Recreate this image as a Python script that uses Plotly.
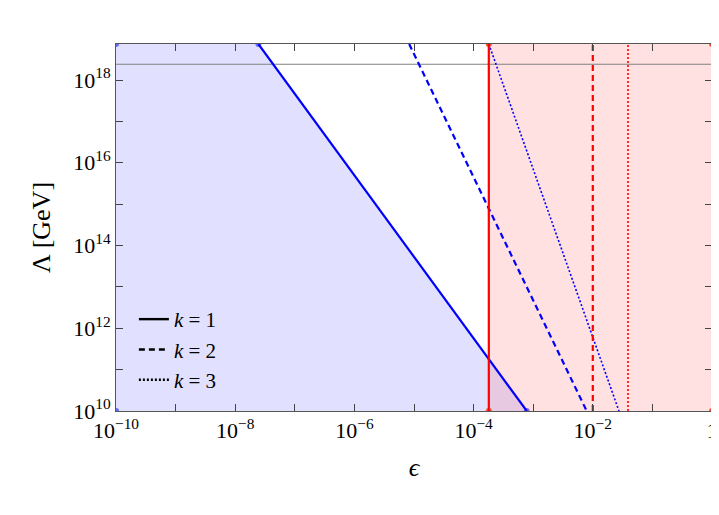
import plotly.graph_objects as go

# data
x_k1 = [2.45e-8, 7.8e-4]; y_k1 = [7.4e18, 1e10]
x_k2 = [8.3e-6, 7.9e-3]; y_k2 = [7.4e18, 1e10]
x_k3 = [1.8e-4, 2.75e-2]; y_k3 = [7.4e18, 1e10]
eps_k1, eps_k2, eps_k3 = 1.8e-4, 1e-2, 3.9e-2
m_planck = 2.4e18
xmin, xmax, ymin, ymax = 1e-10, 1.0, 1e10, 7.4e18

fig = go.Figure()
fig.add_trace(go.Scatter(x=[xmin, xmin] + x_k1, y=[ymin, ymax] + y_k1, fill='toself',
    fillcolor='rgba(120,120,255,0.22)', line=dict(width=0), showlegend=False, hoverinfo='skip'))
fig.add_trace(go.Scatter(x=[eps_k1, eps_k1, xmax, xmax], y=[ymin, ymax, ymax, ymin], fill='toself',
    fillcolor='rgba(255,120,120,0.22)', line=dict(width=0), showlegend=False, hoverinfo='skip'))
fig.add_trace(go.Scatter(x=[xmin, xmax], y=[m_planck, m_planck], mode='lines',
    line=dict(color='gray', width=1.2), showlegend=False))
dashmap = {'solid': 'solid', 'dash': '6px,4px', 'dot': '2px,2px'}
for xs, ys, d in [(x_k1, y_k1, 'solid'), (x_k2, y_k2, 'dash'), (x_k3, y_k3, 'dot')]:
    fig.add_trace(go.Scatter(x=xs, y=ys, mode='lines', line=dict(color='blue', width=2.2 if d != 'dot' else 1.6, dash=dashmap[d]), showlegend=False))
for e, d in [(eps_k1, 'solid'), (eps_k2, 'dash'), (eps_k3, 'dot')]:
    fig.add_trace(go.Scatter(x=[e, e], y=[ymin, ymax], mode='lines', line=dict(color='red', width=2.2 if d != 'dot' else 1.6, dash=dashmap[d]), showlegend=False))
for k, d in [(1, 'solid'), (2, 'dash'), (3, 'dot')]:
    fig.add_trace(go.Scatter(x=[None], y=[None], mode='lines', line=dict(color='black', width=2.4, dash=dashmap[d]),
        name=f'<i>k</i> = {k}'))

font = dict(family='Liberation Serif, DejaVu Serif, serif', size=22, color='black')
xt = [10**p for p in range(-10, 1)]
xl = [f'10<sup>−{-p}</sup>' if p % 2 == 0 and p < 0 else ('1' if p == 0 else '') for p in range(-10, 1)]
yt = [10**p for p in range(10, 19)]
yl = [f'10<sup>{p}</sup>' if p % 2 == 0 else '' for p in range(10, 19)]
fig.update_layout(width=719, height=515, margin=dict(l=108, r=9, t=36, b=112),
    plot_bgcolor='white', paper_bgcolor='white', font=font,
    legend=dict(x=0.03, y=0.03, xanchor='left', yanchor='bottom', bgcolor='rgba(0,0,0,0)', font=dict(size=21)))
fig.update_xaxes(type='log', range=[-10, 0], tickvals=xt, ticktext=xl, ticks='inside', ticklen=7,
    mirror='ticks', showline=True, linecolor='#555', showgrid=False, tickfont=dict(size=22),
    title=dict(text='<i>ϵ</i>', font=dict(size=26)))
fig.update_yaxes(type='log', range=[10, 18.87], tickvals=yt, ticktext=yl, ticks='inside', ticklen=7,
    mirror='ticks', showline=True, linecolor='#555', showgrid=False, tickfont=dict(size=22),
    title=dict(text='Λ [GeV]', font=dict(size=26)))
fig.write_html('out.html')
